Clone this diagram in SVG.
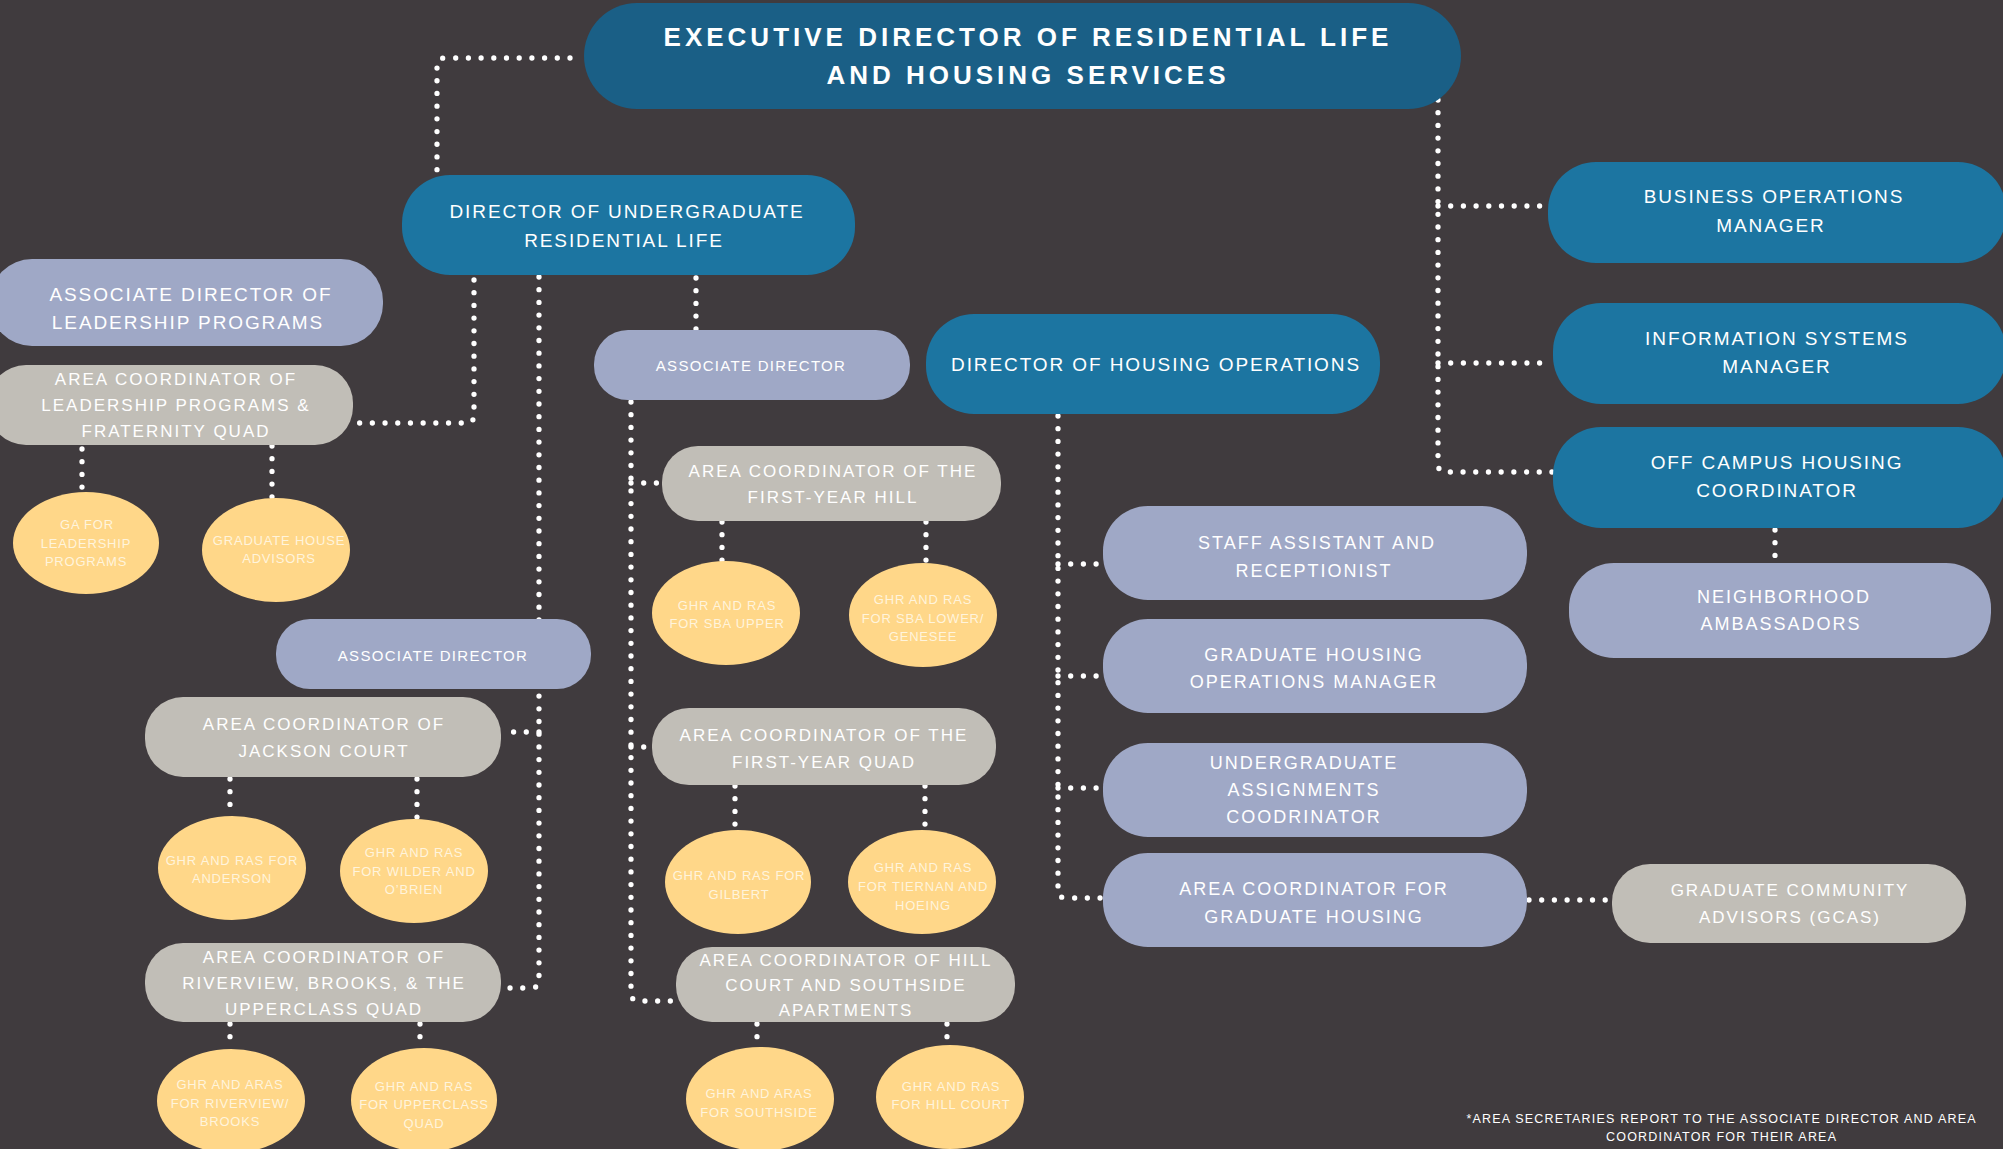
<svg xmlns="http://www.w3.org/2000/svg" width="2003" height="1149" viewBox="0 0 2003 1149">
<style>
text{font-family:"Liberation Sans",Arial,sans-serif;fill:#ffffff;text-anchor:middle}
.exec{fill:#1a5f86}
.blue{fill:#1c75a1}
.lav{fill:#9fa8c6}
.gray{fill:#c1beb7}
.yel{fill:#ffd789}
.te{font-size:26px;font-weight:bold;letter-spacing:4px}
.tb{font-size:19px;letter-spacing:1.9px}
.tl{font-size:18px;letter-spacing:2px}
.tg{font-size:17px;letter-spacing:2px}
.ts{font-size:15px;letter-spacing:1.3px}
.ty{font-size:13px;letter-spacing:0.8px;fill:#fff4dc}
.tf{font-size:12.5px}
.conn path{fill:none;stroke:#ffffff;stroke-width:5.3;stroke-linecap:round;stroke-dasharray:0 12.7}
</style>
<rect x="0" y="0" width="2003" height="1149" fill="#403b3e"/>
<g class="conn" id="connectors">
<path d="M570,58 H445 Q437,58 437,66 V172"/>
<path d="M1438,100 V464 Q1438,472 1446,472 H1552"/>
<path d="M1438,206 H1547"/>
<path d="M1438,363 H1552"/>
<path d="M1775,530 V562"/>
<path d="M474,280 V415 Q474,423 466,423 H355"/>
<path d="M539,277 V980 Q539,988 531,988 H502"/>
<path d="M539,732 H502"/>
<path d="M696,278 V329"/>
<path d="M631,402 V993 Q631,1001 639,1001 H678"/>
<path d="M631,483 H661"/>
<path d="M631,747 H651"/>
<path d="M1058,416 V890 Q1058,898 1066,898 H1102"/>
<path d="M1058,564 H1102"/>
<path d="M1058,676 H1102"/>
<path d="M1058,788 H1102"/>
<path d="M1529,900 H1611"/>
<path d="M82,449 V490"/>
<path d="M272,446 V498"/>
<path d="M722,522 V561"/>
<path d="M926,522 V562"/>
<path d="M230,779 V815"/>
<path d="M417,779 V818"/>
<path d="M735,786 V829"/>
<path d="M925,786 V829"/>
<path d="M230,1024 V1049"/>
<path d="M420,1024 V1047"/>
<path d="M757,1024 V1046"/>
<path d="M947,1024 V1044"/>
</g>
<g id="n-exec"><rect class="exec" x="584" y="3" width="877" height="106" rx="53"/>
<text class="te" x="1028" y="46">EXECUTIVE DIRECTOR OF RESIDENTIAL LIFE</text>
<text class="te" x="1028" y="84">AND HOUSING SERVICES</text></g>
<g id="n-dirug"><rect class="blue" x="402" y="175" width="453" height="100" rx="48"/>
<text class="tb" x="627" y="218">DIRECTOR OF UNDERGRADUATE</text>
<text class="tb" x="624" y="247">RESIDENTIAL LIFE</text></g>
<g id="n-adlead"><rect class="lav" x="-10" y="259" width="393" height="87" rx="42"/>
<text class="tb" x="191" y="301">ASSOCIATE DIRECTOR OF</text>
<text class="tb" x="188" y="329">LEADERSHIP PROGRAMS</text></g>
<g id="n-aclead"><rect class="gray" x="-12" y="365" width="365" height="80" rx="38"/>
<text class="tg" x="176" y="385">AREA COORDINATOR OF</text>
<text class="tg" x="176" y="411">LEADERSHIP PROGRAMS &amp;</text>
<text class="tg" x="176" y="437">FRATERNITY QUAD</text></g>
<g id="n-galead"><ellipse class="yel" cx="86" cy="543" rx="73" ry="51"/>
<text class="ty" x="87" y="529">GA FOR</text>
<text class="ty" x="86" y="548">LEADERSHIP</text>
<text class="ty" x="86" y="566">PROGRAMS</text></g>
<g id="n-gha"><ellipse class="yel" cx="276" cy="550" rx="74" ry="52"/>
<text class="ty" x="279" y="545">GRADUATE HOUSE</text>
<text class="ty" x="279" y="563">ADVISORS</text></g>
<g id="n-adtop"><rect class="lav" x="594" y="330" width="316" height="70" rx="34"/>
<text class="ts" x="751" y="371">ASSOCIATE DIRECTOR</text></g>
<g id="n-dirho"><rect class="blue" x="926" y="314" width="454" height="100" rx="48"/>
<text class="tb" x="1156" y="371">DIRECTOR OF HOUSING OPERATIONS</text></g>
<g id="n-bom"><rect class="blue" x="1548" y="162" width="458" height="101" rx="48"/>
<text class="tb" x="1774" y="203">BUSINESS OPERATIONS</text>
<text class="tb" x="1771" y="232">MANAGER</text></g>
<g id="n-ism"><rect class="blue" x="1553" y="303" width="453" height="101" rx="48"/>
<text class="tb" x="1777" y="345">INFORMATION SYSTEMS</text>
<text class="tb" x="1777" y="373">MANAGER</text></g>
<g id="n-och"><rect class="blue" x="1553" y="427" width="453" height="101" rx="48"/>
<text class="tb" x="1777" y="469">OFF CAMPUS HOUSING</text>
<text class="tb" x="1777" y="497">COORDINATOR</text></g>
<g id="n-na"><rect class="lav" x="1569" y="563" width="422" height="95" rx="45"/>
<text class="tl" x="1784" y="603">NEIGHBORHOOD</text>
<text class="tl" x="1781" y="630">AMBASSADORS</text></g>
<g id="n-sa"><rect class="lav" x="1103" y="506" width="424" height="94" rx="45"/>
<text class="tl" x="1317" y="549">STAFF ASSISTANT AND</text>
<text class="tl" x="1314" y="577">RECEPTIONIST</text></g>
<g id="n-gho"><rect class="lav" x="1103" y="619" width="424" height="94" rx="45"/>
<text class="tl" x="1314" y="661">GRADUATE HOUSING</text>
<text class="tl" x="1314" y="688">OPERATIONS MANAGER</text></g>
<g id="n-uac"><rect class="lav" x="1103" y="743" width="424" height="94" rx="45"/>
<text class="tl" x="1304" y="769">UNDERGRADUATE</text>
<text class="tl" x="1304" y="796">ASSIGNMENTS</text>
<text class="tl" x="1304" y="823">COODRINATOR</text></g>
<g id="n-acgh"><rect class="lav" x="1103" y="853" width="424" height="94" rx="45"/>
<text class="tl" x="1314" y="895">AREA COORDINATOR FOR</text>
<text class="tl" x="1314" y="923">GRADUATE HOUSING</text></g>
<g id="n-gcas"><rect class="gray" x="1612" y="864" width="354" height="79" rx="38"/>
<text class="tg" x="1790" y="896">GRADUATE COMMUNITY</text>
<text class="tg" x="1790" y="923">ADVISORS (GCAS)</text></g>
<g id="n-fyhill"><rect class="gray" x="662" y="446" width="339" height="75" rx="36"/>
<text class="tg" x="833" y="477">AREA COORDINATOR OF THE</text>
<text class="tg" x="833" y="503">FIRST-YEAR HILL</text></g>
<g id="n-sbau"><ellipse class="yel" cx="726" cy="613" rx="74" ry="52"/>
<text class="ty" x="727" y="610">GHR AND RAS</text>
<text class="ty" x="727" y="628">FOR SBA UPPER</text></g>
<g id="n-sbal"><ellipse class="yel" cx="923" cy="615" rx="74" ry="52"/>
<text class="ty" x="923" y="604">GHR AND RAS</text>
<text class="ty" x="923" y="623">FOR SBA LOWER/</text>
<text class="ty" x="923" y="641">GENESEE</text></g>
<g id="n-fyquad"><rect class="gray" x="652" y="708" width="344" height="77" rx="37"/>
<text class="tg" x="824" y="741">AREA COORDINATOR OF THE</text>
<text class="tg" x="824" y="768">FIRST-YEAR QUAD</text></g>
<g id="n-gil"><ellipse class="yel" cx="738" cy="882" rx="73" ry="52"/>
<text class="ty" x="739" y="880">GHR AND RAS FOR</text>
<text class="ty" x="739" y="899">GILBERT</text></g>
<g id="n-tier"><ellipse class="yel" cx="922" cy="882" rx="74" ry="52"/>
<text class="ty" x="923" y="872">GHR AND RAS</text>
<text class="ty" x="923" y="891">FOR TIERNAN AND</text>
<text class="ty" x="923" y="910">HOEING</text></g>
<g id="n-hillac"><rect class="gray" x="676" y="947" width="339" height="75" rx="36"/>
<text class="tg" x="846" y="966">AREA COORDINATOR OF HILL</text>
<text class="tg" x="846" y="991">COURT AND SOUTHSIDE</text>
<text class="tg" x="846" y="1016">APARTMENTS</text></g>
<g id="n-south"><ellipse class="yel" cx="760" cy="1099" rx="74" ry="52"/>
<text class="ty" x="759" y="1098">GHR AND ARAS</text>
<text class="ty" x="759" y="1117">FOR SOUTHSIDE</text></g>
<g id="n-hillg"><ellipse class="yel" cx="950" cy="1097" rx="74" ry="52"/>
<text class="ty" x="951" y="1091">GHR AND RAS</text>
<text class="ty" x="951" y="1109">FOR HILL COURT</text></g>
<g id="n-adlow"><rect class="lav" x="276" y="619" width="315" height="70" rx="34"/>
<text class="ts" x="433" y="661">ASSOCIATE DIRECTOR</text></g>
<g id="n-jack"><rect class="gray" x="145" y="697" width="356" height="80" rx="38"/>
<text class="tg" x="324" y="730">AREA COORDINATOR OF</text>
<text class="tg" x="324" y="757">JACKSON COURT</text></g>
<g id="n-and"><ellipse class="yel" cx="232" cy="868" rx="74" ry="52"/>
<text class="ty" x="232" y="865">GHR AND RAS FOR</text>
<text class="ty" x="232" y="883">ANDERSON</text></g>
<g id="n-wild"><ellipse class="yel" cx="414" cy="871" rx="74" ry="52"/>
<text class="ty" x="414" y="857">GHR AND RAS</text>
<text class="ty" x="414" y="876">FOR WILDER AND</text>
<text class="ty" x="414" y="894">O’BRIEN</text></g>
<g id="n-river"><rect class="gray" x="145" y="943" width="356" height="79" rx="38"/>
<text class="tg" x="324" y="963">AREA COORDINATOR OF</text>
<text class="tg" x="324" y="989">RIVERVIEW, BROOKS, &amp; THE</text>
<text class="tg" x="324" y="1015">UPPERCLASS QUAD</text></g>
<g id="n-rb"><ellipse class="yel" cx="231" cy="1101" rx="74" ry="52"/>
<text class="ty" x="230" y="1089">GHR AND ARAS</text>
<text class="ty" x="230" y="1108">FOR RIVERVIEW/</text>
<text class="ty" x="230" y="1126">BROOKS</text></g>
<g id="n-uq"><ellipse class="yel" cx="424" cy="1100" rx="73" ry="52"/>
<text class="ty" x="424" y="1091">GHR AND RAS</text>
<text class="ty" x="424" y="1109">FOR UPPERCLASS</text>
<text class="ty" x="424" y="1128">QUAD</text></g>
<g id="footnote">
<text class="tf" x="1721" y="1123" textLength="509" lengthAdjust="spacing">*AREA SECRETARIES REPORT TO THE ASSOCIATE DIRECTOR AND AREA</text>
<text class="tf" x="1721" y="1141" textLength="230" lengthAdjust="spacing">COORDINATOR FOR THEIR AREA</text>
</g>
</svg>
